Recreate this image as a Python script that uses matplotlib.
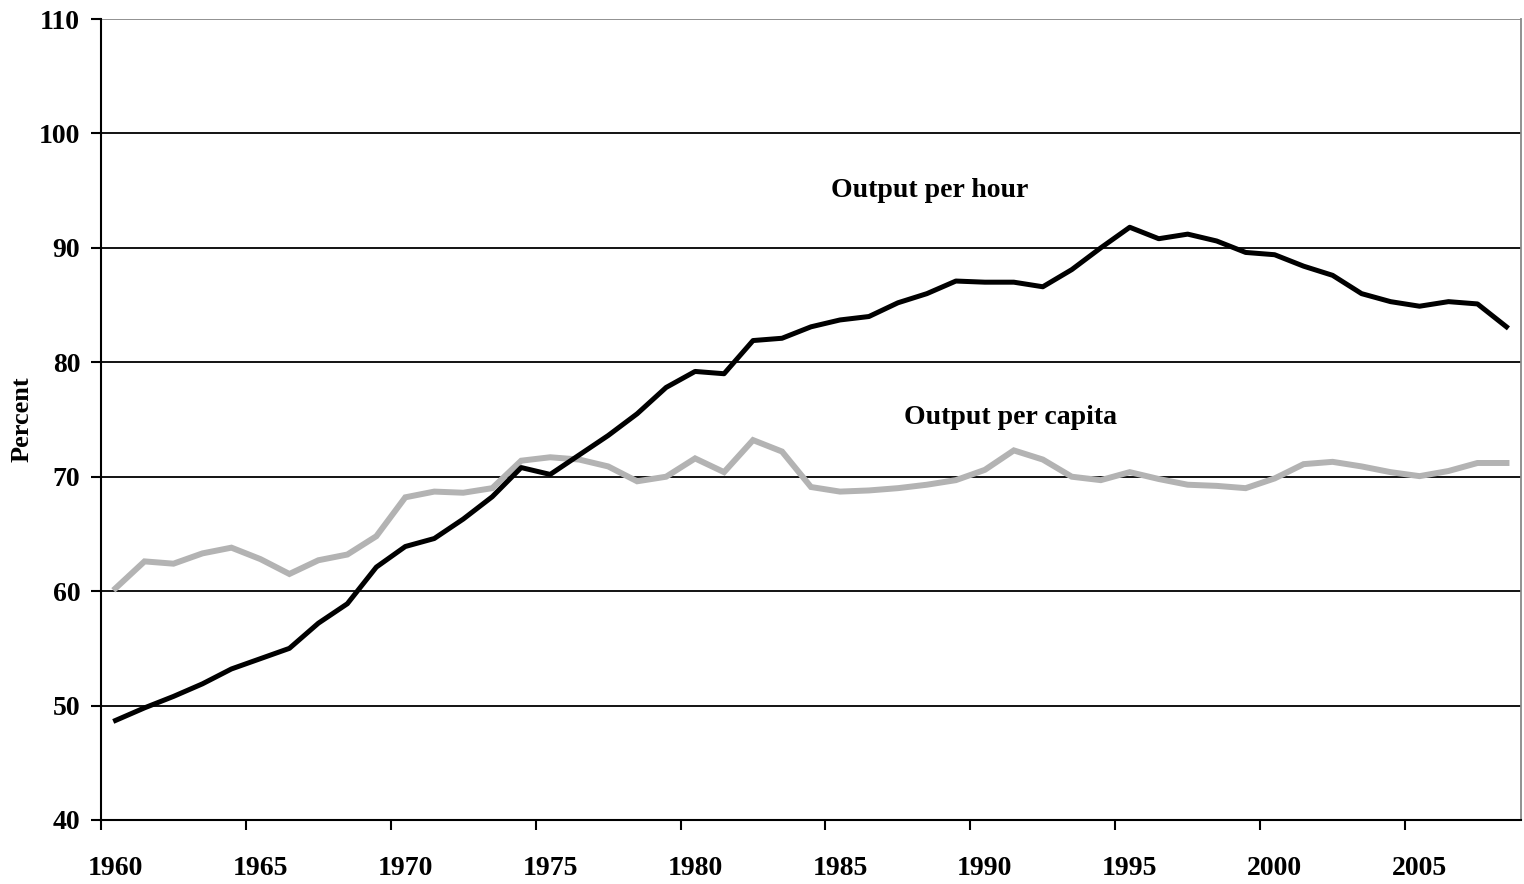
import matplotlib
matplotlib.use("Agg")
import matplotlib.pyplot as plt
import numpy as np

# years on a category axis, 1960..2008
years = np.arange(1960, 2009)

# output per hour (black)
per_hour = [48.7, 49.8, 50.8, 51.9, 53.2, 54.1, 55.0, 57.2, 58.9, 62.1,
            63.9, 64.6, 66.3, 68.25, 70.8, 70.2, 71.9, 73.6, 75.5, 77.8,
            79.2, 79.0, 81.9, 82.1, 83.1, 83.7, 84.0, 85.2, 86.0, 87.1,
            87.0, 87.0, 86.6, 88.1, 90.0, 91.8, 90.8, 91.2, 90.6, 89.6,
            89.4, 88.4, 87.6, 86.0, 85.3, 84.9, 85.3, 85.1, 83.1]

# output per capita (gray)
per_capita = [60.25, 62.6, 62.4, 63.3, 63.8, 62.8, 61.5, 62.7, 63.2, 64.8,
              68.2, 68.7, 68.6, 69.0, 71.4, 71.7, 71.5, 70.9, 69.6, 70.0,
              71.6, 70.4, 73.2, 72.2, 69.1, 68.7, 68.8, 69.0, 69.3, 69.7,
              70.6, 72.3, 71.5, 70.0, 69.7, 70.4, 69.8, 69.3, 69.2, 69.0,
              69.85, 71.1, 71.3, 70.9, 70.4, 70.05, 70.5, 71.2, 71.2]

label_years = [1960, 1965, 1970, 1975, 1980, 1985, 1990, 1995, 2000, 2005]
y_ticks = [40, 50, 60, 70, 80, 90, 100, 110]

plt.rcParams['font.family'] = ['Liberation Serif', 'DejaVu Serif']

fig = plt.figure(figsize=(15.24, 8.84), dpi=100)
ax = fig.add_axes([0.0663, 0.0724, 0.9317, 0.9061])

# horizontal gridlines
for v in y_ticks[1:-1]:
    ax.axhline(v, color='black', lw=1.3, zorder=1)
ax.axhline(110, color='#888888', lw=1.3, zorder=1)

ax.plot(years, per_capita, color='#b3b3b3', lw=4.3, solid_joinstyle='miter', zorder=2)
ax.plot(years, per_hour, color='black', lw=3.6, solid_joinstyle='round', zorder=3)

ax.set_xlim(1959.5, 2008.5)
ax.set_ylim(40, 110)

# ticks on category boundaries, labels at category centres
ax.set_xticks([y - 0.5 for y in label_years])
ax.set_xticklabels([])
ax.set_xticks(label_years, minor=True)
ax.set_xticklabels([str(y) for y in label_years], minor=True)
ax.tick_params(axis='x', which='major', direction='out', length=7, width=1.5)
ax.tick_params(axis='x', which='minor', length=0, pad=26, labelsize=20)

ax.set_yticks(y_ticks)
ax.set_yticklabels([str(v) for v in y_ticks])
ax.tick_params(axis='y', direction='out', length=7, width=1.5, pad=8, labelsize=20)
for lab in ax.get_xticklabels(minor=True) + ax.get_yticklabels():
    lab.set_fontweight('bold')

for s in ['left', 'bottom']:
    ax.spines[s].set_linewidth(1.5)
ax.spines['top'].set_visible(False)
ax.spines['right'].set_color('#888888')
ax.spines['right'].set_linewidth(1.3)

ax.set_ylabel('Percent', fontsize=19, fontweight='bold', labelpad=4)

ax.text(1988.1, 95.05, 'Output per hour', fontsize=20, fontweight='bold',
        ha='center', va='center')
ax.text(1990.9, 75.2, 'Output per capita', fontsize=20, fontweight='bold',
        ha='center', va='center')

fig.savefig('out.png', dpi=100)
